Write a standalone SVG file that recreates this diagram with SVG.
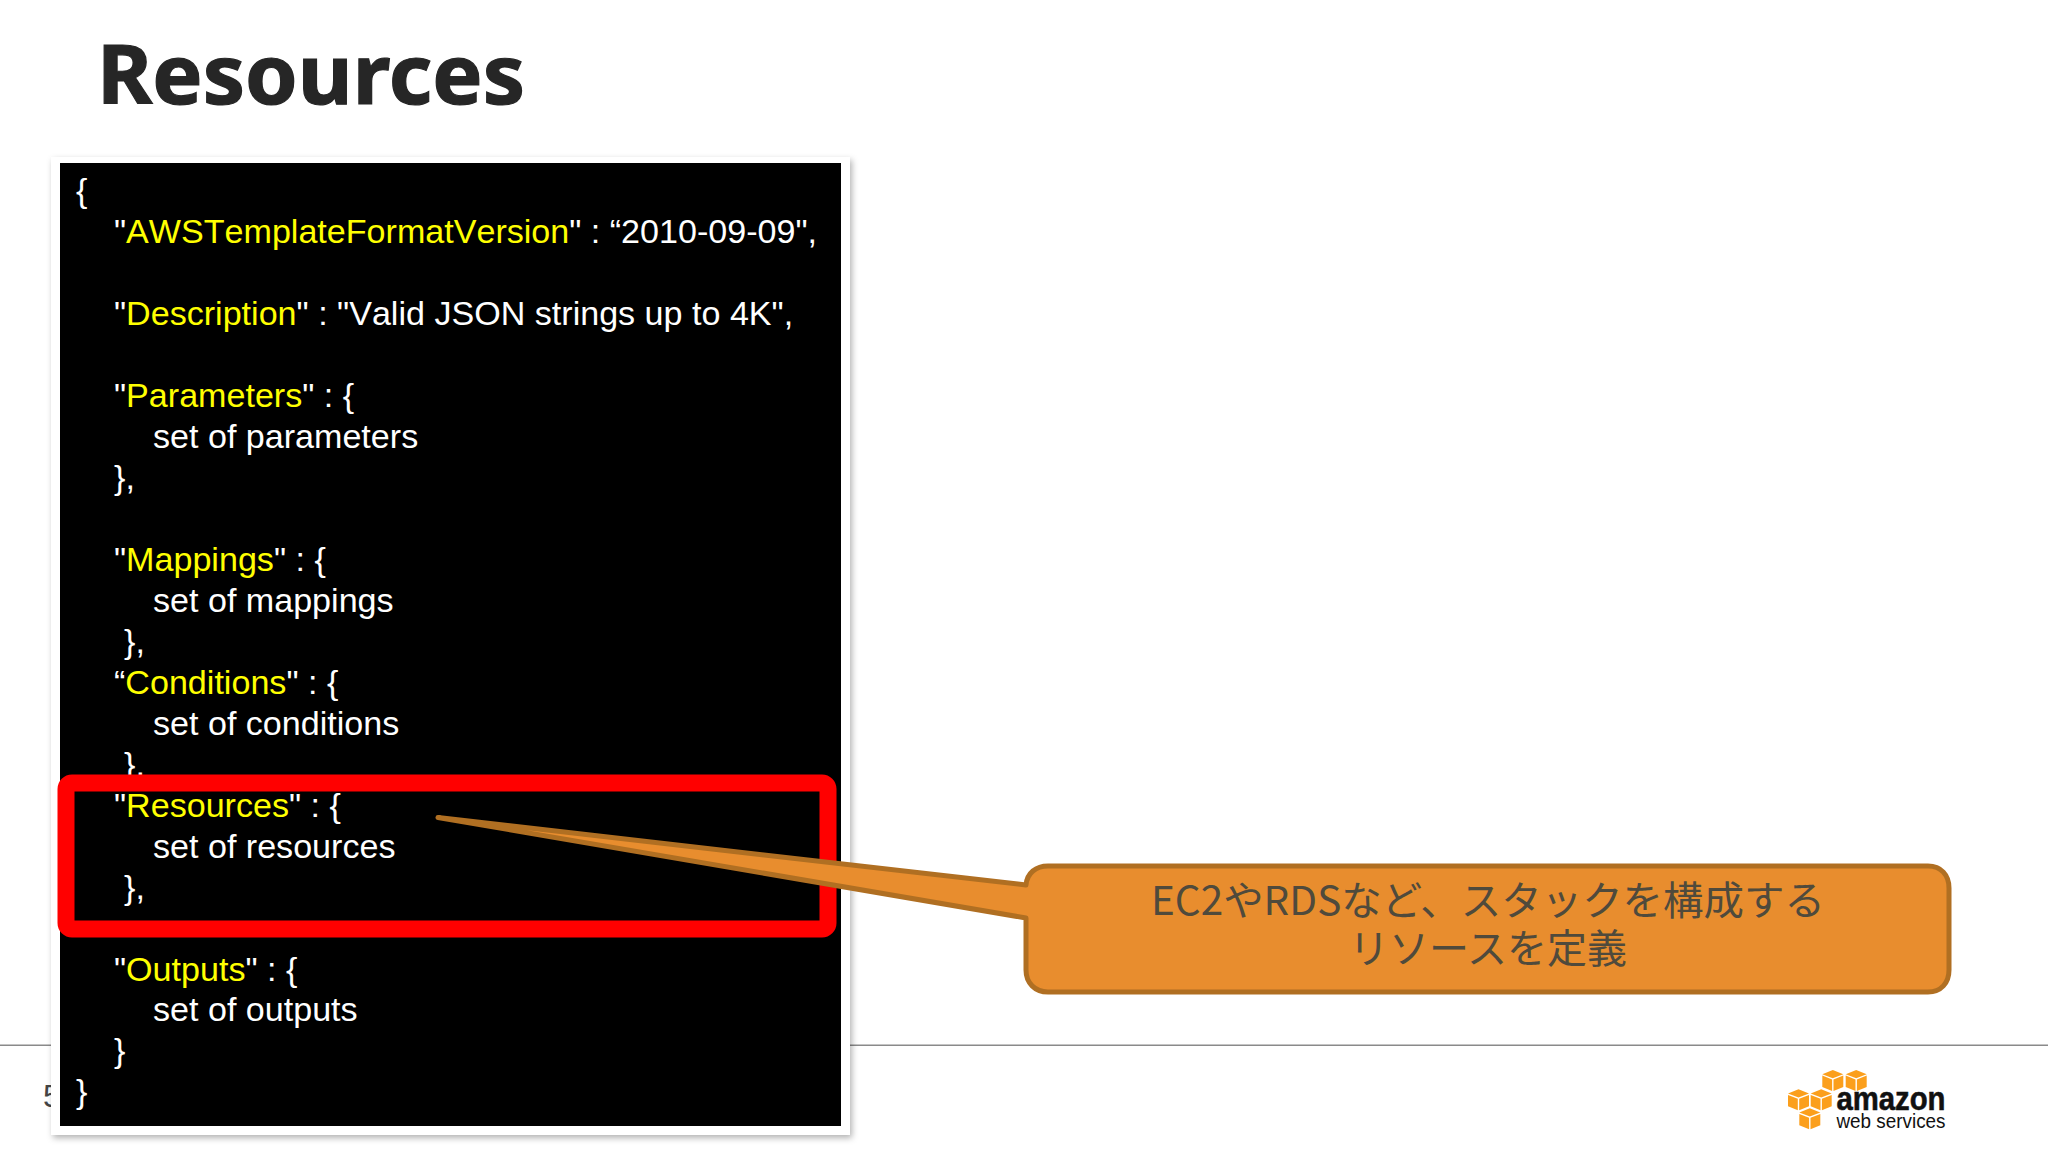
<svg xmlns="http://www.w3.org/2000/svg" width="2048" height="1152" viewBox="0 0 2048 1152">
<defs>
<style>
.c{font-family:"Liberation Sans",Arial,sans-serif;font-size:34.1px;fill:#fff;font-kerning:none}
.c tspan.y{fill:#ff0}
.cj{font-family:"Noto Sans CJK JP",sans-serif;font-size:40px;fill:#4f4a3c}
.f{fill:#fb9f1c}
.lg{font-family:"Liberation Sans",sans-serif;fill:#111}
</style>
<filter id="sh" x="-5%" y="-5%" width="110%" height="110%"><feDropShadow dx="2" dy="3" stdDeviation="3" flood-color="#000" flood-opacity=".3"/></filter>
<g id="cube">
<polygon class="f" points="10.5,0 21,4.200 10.500,8.200 0,4.200"/>
<polygon class="f" points="0,5.600 9.800,9.400 9.800,21 0,17"/>
<polygon class="f" points="21,5.600 11.200,9.400 11.200,21 21,17"/>
</g>
</defs>
<rect width="2048" height="1152" fill="#fff"/>
<g id="title"><text x="97" y="104" font-family="Noto Sans,sans-serif" font-weight="700" font-size="83" fill="#262626" stroke="#262626" stroke-width="1.2" textLength="428" lengthAdjust="spacingAndGlyphs">Resources</text></g>
<g id="footer">
<rect x="0" y="1044.500" width="2048" height="1.500" fill="#8a8a8a"/>
<text x="43" y="1107" font-family="Liberation Sans,sans-serif" font-size="32" fill="#444">5</text>
</g>
<g id="template">
<rect x="51" y="157" width="799" height="978" fill="#fff" filter="url(#sh)"/>
<rect x="60" y="163" width="781" height="963" fill="#000"/>
<g class="c">
<text x="76" y="202">{</text>
<text x="114" y="243">"<tspan class="y">AWSTemplateFormatVersion</tspan>" : “2010-09-09",</text>
<text x="114" y="325">"<tspan class="y">Description</tspan>" : "Valid JSON strings up to 4K",</text>
<text x="114" y="407">"<tspan class="y">Parameters</tspan>" : {</text>
<text x="153" y="448">set of parameters</text>
<text x="114" y="489">},</text>
<text x="114" y="571">"<tspan class="y">Mappings</tspan>" : {</text>
<text x="153" y="612">set of mappings</text>
<text x="124" y="653">},</text>
<text x="114" y="694">“<tspan class="y">Conditions</tspan>" : {</text>
<text x="153" y="735">set of conditions</text>
<text x="124" y="776">},</text>
<text x="114" y="817">"<tspan class="y">Resources</tspan>" : {</text>
<text x="153" y="858">set of resources</text>
<text x="124" y="899">},</text>
<text x="114" y="981">"<tspan class="y">Outputs</tspan>" : {</text>
<text x="153" y="1021">set of outputs</text>
<text x="114" y="1062">}</text>
<text x="76" y="1103">}</text>
</g>
</g>
<g id="highlight"><rect x="66" y="783" width="762" height="146" rx="6" fill="none" stroke="#f00" stroke-width="17"/></g>
<g id="callout">
<path d="M1026 885C1027 873 1036 866 1048 866H1928C1941 866 1949 875 1949 888V970C1949 983 1941 992 1928 992H1048C1035 992 1026 983 1026 970V918L438 817.500Z" fill="#e88d2e" stroke="#b06f22" stroke-width="5" stroke-linejoin="round"/>
<text class="cj" x="1151" y="915" textLength="674" lengthAdjust="spacingAndGlyphs">EC2やRDSなど、スタックを構成する</text>
<text class="cj" x="1349" y="963" textLength="278" lengthAdjust="spacingAndGlyphs">リソースを定義</text>
</g>
<g id="logo">
<use href="#cube" x="1822.300" y="1070"/>
<use href="#cube" x="1845.700" y="1070"/>
<use href="#cube" x="1788" y="1089.300"/>
<use href="#cube" x="1810.700" y="1089.300"/>
<use href="#cube" x="1799.300" y="1108.300"/>
<text class="lg" x="1836.500" y="1110" font-weight="700" font-size="34" stroke="#111" stroke-width=".6" textLength="109" lengthAdjust="spacingAndGlyphs">amazon</text>
<text class="lg" x="1836.500" y="1128" font-size="21" textLength="109" lengthAdjust="spacingAndGlyphs">web services</text>
</g>
</svg>
